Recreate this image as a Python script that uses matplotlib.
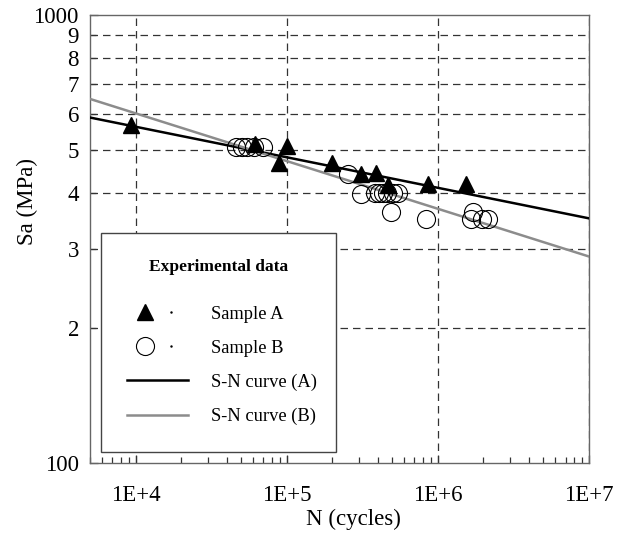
import numpy as np
import matplotlib
matplotlib.use("Agg")
import matplotlib.pyplot as plt
from matplotlib.lines import Line2D
from matplotlib.legend_handler import HandlerTuple
from matplotlib.ticker import LogLocator, FuncFormatter, NullFormatter

plt.rcParams["font.family"] = ["Liberation Serif", "DejaVu Serif"]

# sample A (filled triangles)
n_a = [9.3e3, 6.2e4, 1.0e5, 8.9e4, 2.0e5, 3.1e5, 3.9e5, 4.7e5, 8.6e5, 1.53e6]
sa_a = [568, 515, 511, 467, 467, 442, 443, 418, 420, 420]

# sample B (open circles)
n_b = [4.6e4, 5.1e4, 5.5e4, 6.1e4, 7.0e4, 2.55e5, 3.1e5,
       3.83e5, 4.09e5, 4.34e5, 4.64e5, 5.06e5, 5.46e5,
       4.93e5, 8.3e5, 1.71e6, 1.67e6, 1.95e6, 2.16e6]
sa_b = [508, 508, 508, 508, 508, 441, 398,
        400, 400, 400, 400, 400, 400,
        363, 351, 364, 351, 351, 351]

# S-N curves, Sa = coef * N ** expo
coef_a, expo_a = 1055.0, -0.0682
coef_b, expo_b = 1610.0, -0.1066

x_range = [5e3, 1e7]
y_range = [100, 1000]

fig = plt.figure(figsize=(6.34, 5.35), dpi=100)
ax = fig.add_axes([0.142, 0.135, 0.787, 0.837])
ax.set_xscale("log")
ax.set_yscale("log")
ax.set_xlim(*x_range)
ax.set_ylim(*y_range)

n_line = np.array(x_range)
ax.plot(n_line, coef_a * n_line ** expo_a, color="black", lw=1.8, zorder=3)
ax.plot(n_line, coef_b * n_line ** expo_b, color="#8c8c8c", lw=1.8, zorder=3)

ax.plot(n_a, sa_a, ls="none", marker="^", ms=12, color="black", zorder=4)
ax.plot(n_b, sa_b, ls="none", marker="o", ms=13, mfc="none", mec="black",
        mew=0.8, zorder=4)

# ticks
ax.xaxis.set_major_locator(LogLocator(base=10, numticks=10))
ax.xaxis.set_minor_locator(LogLocator(base=10, subs=np.arange(2, 10), numticks=20))
ax.xaxis.set_major_formatter(FuncFormatter(lambda v, p: "1E+%d" % round(np.log10(v))))
ax.xaxis.set_minor_formatter(NullFormatter())
ax.yaxis.set_major_locator(LogLocator(base=10, numticks=10))
ax.yaxis.set_minor_locator(LogLocator(base=10, subs=np.arange(2, 10), numticks=20))
ax.yaxis.set_major_formatter(FuncFormatter(lambda v, p: "%d" % round(v)))
ax.yaxis.set_minor_formatter(FuncFormatter(lambda v, p: "%d" % round(v / 100)))

ax.tick_params(which="both", direction="in", colors="#333333", labelcolor="black",
               labelsize=16.5)
ax.tick_params(axis="x", which="both", pad=16)
ax.tick_params(axis="y", which="both", pad=8)
ax.tick_params(which="major", length=6, width=0.9)
ax.tick_params(which="minor", length=4, width=0.9)

ax.grid(True, which="major", axis="x", ls=(0, (6, 4)), color="#333333", lw=0.9)
ax.grid(True, which="minor", axis="y", ls=(0, (6, 4)), color="#333333", lw=0.9)
for s in ax.spines.values():
    s.set_color("#666666")
    s.set_linewidth(1.0)

ax.set_xlabel("N (cycles)", fontsize=16.5)
ax.set_ylabel("Sa (MPa)", fontsize=16.5)
ax.xaxis.set_label_coords(0.527, -0.103)
ax.yaxis.set_label_coords(-0.104, 0.583)

# legend
h_a = Line2D([], [], ls="none", marker="^", ms=12, color="black")
h_b = Line2D([], [], ls="none", marker="o", ms=13, mfc="none", mec="black", mew=0.8)
dot = Line2D([], [], ls="none", marker=".", ms=1.5, color="black")
h_la = Line2D([], [], color="black", lw=1.8)
h_lb = Line2D([], [], color="#8c8c8c", lw=1.8)
leg = ax.legend([(h_a, dot), (h_b, dot), h_la, h_lb],
                ["Sample A", "Sample B", "S-N curve (A)", "S-N curve (B)"],
                handler_map={tuple: HandlerTuple(ndivide=2, pad=-0.4)},
                title="Experimental data",
                title_fontproperties={"weight": "bold", "size": 12.5},
                fontsize=13.3, loc="lower left", mode="expand",
                bbox_to_anchor=(0.0214, 0.024, 0.471, 0.489),
                fancybox=False, framealpha=1, edgecolor="#444444",
                borderpad=1.45, labelspacing=0.92, handlelength=3.3,
                handletextpad=1.2, borderaxespad=0)
leg.get_frame().set_linewidth(1.0)
leg._legend_box.sep += 9.5  # extra gap under the title
leg.set_zorder(5)

fig.savefig("out.png", dpi=100)
